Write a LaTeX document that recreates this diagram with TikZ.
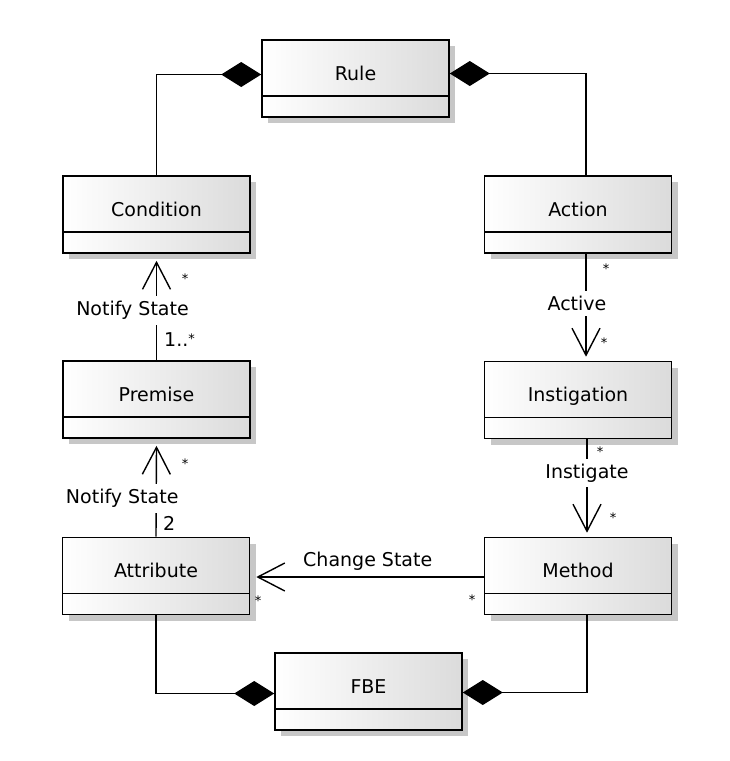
\documentclass[tikz,border=0pt]{standalone}
\usepackage{fontspec}
\setmainfont{DejaVu Sans}
\usetikzlibrary{arrows.meta,shadows}
\begin{document}
\begin{tikzpicture}[x=1pt,y=-1pt,
  cls/.style={draw=black, line width=1.6pt, minimum width=187pt, inner sep=0pt,
    text height=40pt, text depth=37pt, left color=white, right color=black!14,
    general shadow={fill=black!22, shadow xshift=6pt, shadow yshift=-6pt},
    path picture={\draw[line width=1.6pt] ([yshift=21pt]path picture bounding box.south west) -- ([yshift=21pt]path picture bounding box.south east);},
    font=\fontsize{19}{22}\selectfont},
  conn/.style={line width=1.4pt},
  comp/.style={conn, -{Diamond[length=40pt,width=25pt]}},
  nav/.style={conn, -{Straight Barb[length=27pt,width=28pt,line width=1.4pt]}},
  lbl/.style={font=\fontsize{19}{22}\selectfont, fill=white, inner sep=5pt},
  mult/.style={font=\fontsize{13}{15}\selectfont, inner sep=0pt, anchor=base},
  multtxt/.style={font=\fontsize{19}{22}\selectfont, inner sep=0pt, anchor=base west}]
\useasboundingbox (0,0) rectangle (729,761);
\fill[white] (0,0) rectangle (729,761);

\node[cls] (rule)   at (355.5,78.5) {Rule};
\node[cls] (cond)   at (156.5,214.5) {Condition};
\node[cls] (action) at (578,214.5) {Action};
\node[cls] (prem)   at (156.5,399.5) {Premise};
\node[cls] (instig) at (578,400) {Instigation};
\node[cls] (attr)   at (156,576) {Attribute};
\node[cls] (method) at (578,576) {Method};
\node[cls] (fbe)    at (368.5,691.5) {FBE};

% compositions to Rule
\coordinate (ruleL) at ([yshift=4pt]rule.west);
\coordinate (ruleR) at ([yshift=5pt]rule.east);
\draw[comp] (cond.north) |- (ruleL);
\draw[comp] ([xshift=8pt]action.north) |- (ruleR);

% compositions to FBE
\coordinate (fbeL) at ([yshift=-2pt]fbe.west);
\coordinate (fbeR) at ([yshift=-1pt]fbe.east);
\draw[comp] (attr.south) |- (fbeL);
\draw[comp] ([xshift=9pt]method.south) |- (fbeR);

% navigable associations
\coordinate (condT) at ([yshift=-7pt]cond.south);
\draw[nav] (prem.north) -- (condT)
  node[lbl, pos=0.5, xshift=-24pt] {Notify State};
\coordinate (premT) at ([yshift=-7pt]prem.south);
\draw[nav] (attr.north) -- (premT)
  node[lbl, pos=0.42, xshift=-34pt] {Notify State};
\coordinate (instT) at ([xshift=8pt,yshift=4pt]instig.north);
\draw[nav] ([xshift=8pt]action.south) -- (instT)
  node[lbl, pos=0.48, xshift=-9pt] {Active};
\coordinate (methT) at ([xshift=9pt,yshift=4pt]method.north);
\draw[nav] ([xshift=9pt]instig.south) -- (methT)
  node[lbl, pos=0.36] {Instigate};
\coordinate (attrT) at ([xshift=6pt,yshift=-1pt]attr.east);
\draw[nav] ([yshift=-1pt]method.west) -- (attrT)
  node[lbl, pos=0.51, yshift=16pt] {Change State};

% multiplicities
\node[mult] (m1) at (185,283) {*};
\node[multtxt] (m2) at (164,346) {1..\raisebox{3pt}{\fontsize{13}{15}\selectfont *}};
\node[mult] (m3) at (185,468) {*};
\node[multtxt] (m4) at (163,530) {2};
\node[mult] (m5) at (606,273) {*};
\node[mult] (m6) at (604,347) {*};
\node[mult] (m7) at (600,456) {*};
\node[mult] (m8) at (613,522) {*};
\node[mult] (m9) at (258,605) {*};
\node[mult] (m10) at (472,604) {*};
\end{tikzpicture}
\end{document}
